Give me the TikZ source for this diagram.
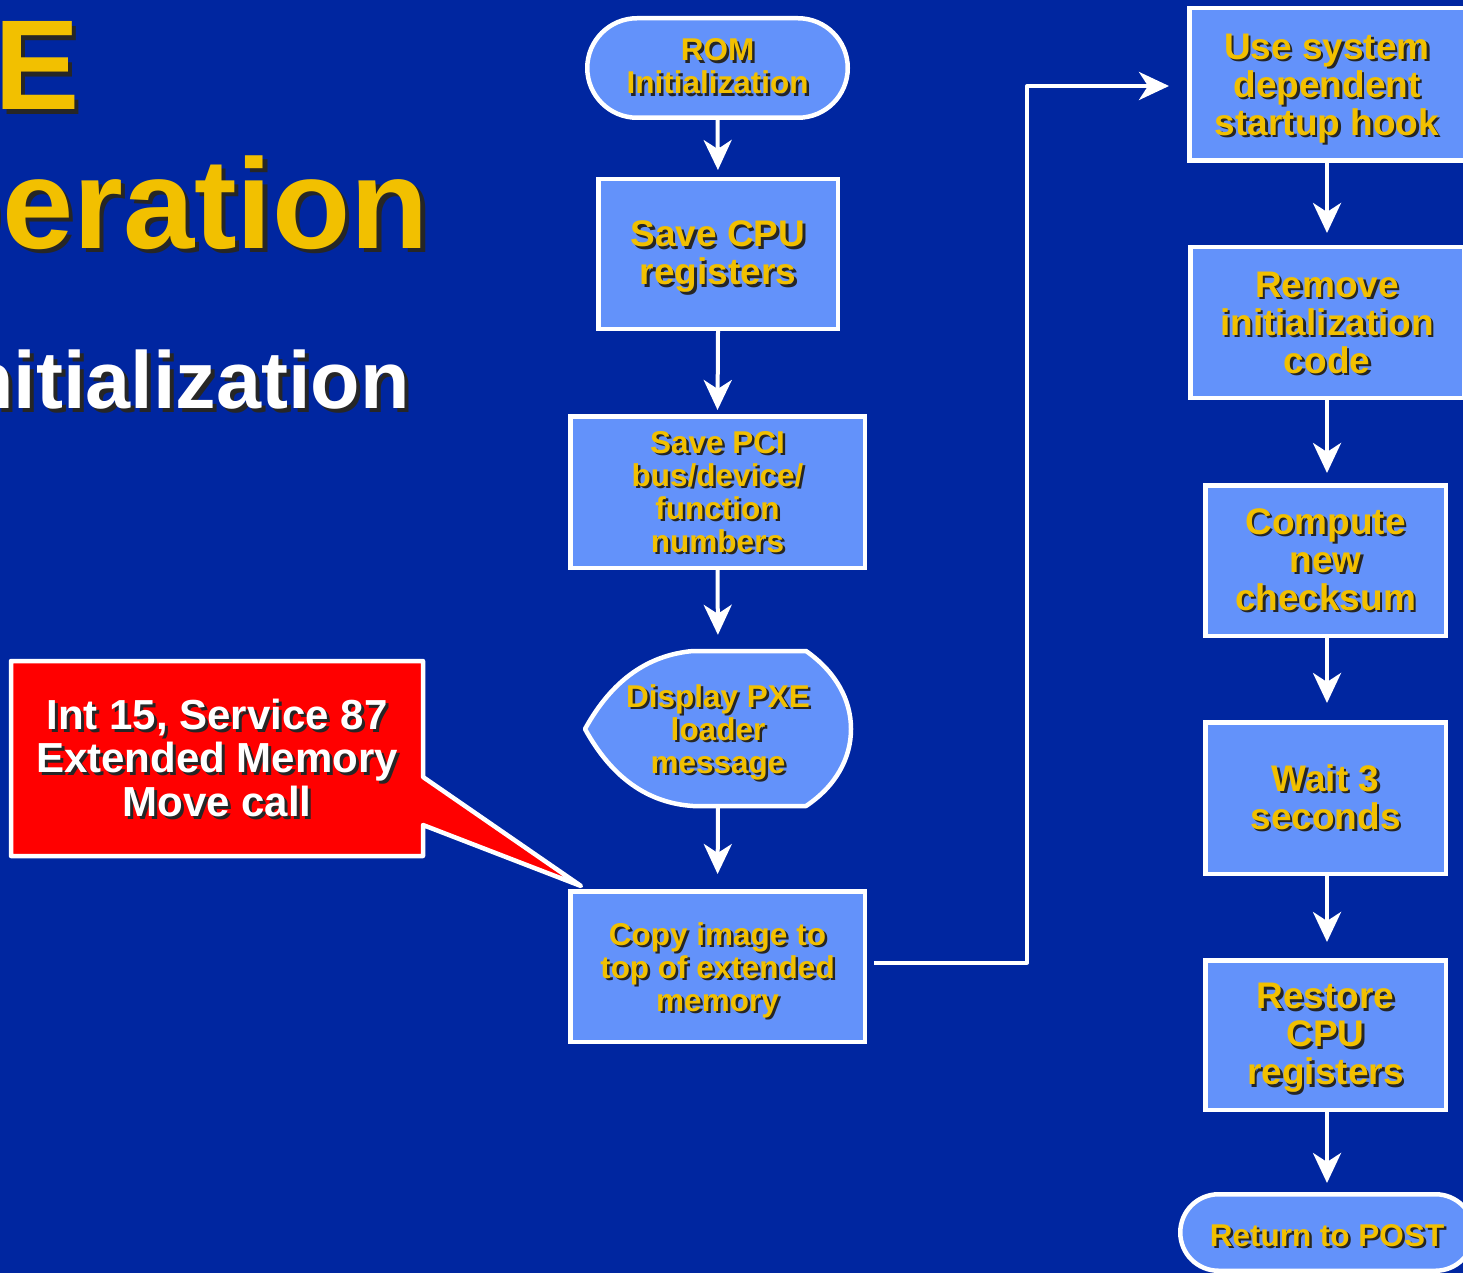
\documentclass[tikz,border=0pt]{standalone}
\usepackage{fontspec}
\setmainfont{Liberation Sans}
\usetikzlibrary{arrows.meta}

\definecolor{slidebg}{RGB}{0,38,160}
\definecolor{boxfill}{RGB}{99,146,250}
\definecolor{labelgold}{RGB}{242,192,0}
\definecolor{callred}{RGB}{255,0,0}

\tikzset{
  flowbox/.style={draw=white, line width=4.5pt, fill=boxfill, inner sep=0pt, rectangle},
  pill/.style={flowbox, rounded corners=#1},
  txt/.style={align=center, inner sep=0pt, font=\bfseries},
  smalltxt/.style={txt, font=\fontsize{31.5}{33}\selectfont\bfseries},
  bigtxt/.style={txt, font=\fontsize{37}{38}\selectfont\bfseries},
  conn/.style={draw=white, line width=4pt, line join=round,
    -{Stealth[length=30pt, width=28pt, inset=9pt]}},
}

% label with a dark drop shadow: name, position, style, colour, offset, text
\newcommand\shadowlabel[6]{%
  \coordinate (#1-pos) at #2;
  \node[#3, text=black!85] (#1-sh) at ([shift={(#5,-#5)}]#1-pos) {#6};
  \node[#3, text=#4] (#1) at (#1-pos) {#6};
}

\begin{document}
\begin{tikzpicture}[x=1pt, y=-1pt]
\useasboundingbox (0,0) rectangle (1463,1273);
\fill[slidebg] (0,0) rectangle (1463,1273);
\clip (0,0) rectangle (1463,1273);

% title lines, running off the left edge
\shadowlabel{title1}{(80,110)}{anchor=base east, inner sep=0pt, font=\fontsize{128}{130}\selectfont\bfseries}{labelgold}{4.5pt}{PXE}
\shadowlabel{title2}{(429,248)}{anchor=base east, inner sep=0pt, font=\fontsize{128}{130}\selectfont\bfseries}{labelgold}{4.5pt}{Operation}
\shadowlabel{title3}{(410,408)}{anchor=base east, inner sep=0pt, font=\fontsize{81}{83}\selectfont\bfseries}{white}{4pt}{Initialization}

% left column
\node[pill=49.75pt, minimum width=260.5pt, minimum height=99.5pt] (rom) at (717.5,68) {};
\node[flowbox, minimum width=239.5pt, minimum height=149.5pt] (cpu) at (718,254) {};
\node[flowbox, minimum width=294.5pt, minimum height=151.5pt] (pci) at (717.5,492) {};
\node[inner sep=0pt, minimum width=266pt, minimum height=155pt] (disp) at (718,728.5) {};
\filldraw[draw=white, line width=4.5pt, fill=boxfill, line join=round]
  (585,729) .. controls (612,680) and (648,655) .. (693,651) -- (806,651)
  .. controls (836,672) and (851,700) .. (851,729)
  .. controls (851,758) and (836,786) .. (806,806) -- (693,806)
  .. controls (648,803) and (612,778) .. (585,729) -- cycle;
\node[flowbox, minimum width=294.5pt, minimum height=150.5pt] (copy) at (717.5,966.5) {};

% right column
\node[flowbox, minimum width=275.5pt, minimum height=152.5pt] (hook) at (1327,84.5) {};
\node[flowbox, minimum width=273.5pt, minimum height=150.5pt] (remove) at (1327,322.5) {};
\node[flowbox, minimum width=240.5pt, minimum height=150.5pt] (compute) at (1325.5,560.5) {};
\node[flowbox, minimum width=240.5pt, minimum height=151.5pt] (wait) at (1325.5,798) {};
\node[flowbox, minimum width=240.5pt, minimum height=149.5pt] (restore) at (1325.5,1035) {};
\node[pill=38.25pt, minimum width=293.5pt, minimum height=76.5pt] (post) at (1327,1232.5) {};

% callout
\filldraw[draw=white, line width=4.5pt, fill=callred, line join=round]
  (11,661) -- (423,661) -- (423,777) -- (581,886) -- (423,825) -- (423,856) -- (11,856) -- cycle;
\node[inner sep=0pt, minimum width=412pt, minimum height=195pt] (callout) at (217,758.5) {};

% labels
\shadowlabel{romT}{([yshift=1.5pt]rom.center)}{smalltxt}{labelgold}{2.5pt}{ROM\\Initialization}
\shadowlabel{cpuT}{([yshift=-3pt]cpu.center)}{bigtxt}{labelgold}{2.5pt}{Save CPU\\registers}
\shadowlabel{pciT}{(pci.center)}{smalltxt}{labelgold}{2.5pt}{Save PCI\\bus/device/\\function\\numbers}
\shadowlabel{dispT}{([yshift=-3.5pt]disp.center)}{smalltxt}{labelgold}{2.5pt}{Display PXE\\loader\\message}
\shadowlabel{copyT}{([yshift=-3.5pt]copy.center)}{smalltxt}{labelgold}{2.5pt}{Copy image to\\top of extended\\memory}
\shadowlabel{hookT}{([yshift=-4pt]hook.center)}{bigtxt}{labelgold}{2.5pt}{Use system\\dependent\\startup hook}
\shadowlabel{removeT}{(remove.center)}{bigtxt}{labelgold}{2.5pt}{Remove\\initialization\\code}
\shadowlabel{computeT}{([yshift=1pt]compute.center)}{bigtxt}{labelgold}{2.5pt}{Compute\\new\\checksum}
\shadowlabel{waitT}{([yshift=1pt]wait.center)}{bigtxt}{labelgold}{2.5pt}{Wait 3\\seconds}
\shadowlabel{restoreT}{([yshift=-3pt]restore.center)}{bigtxt}{labelgold}{2.5pt}{Restore\\CPU\\registers}
\shadowlabel{postT}{([yshift=-3pt]post.center)}{smalltxt}{labelgold}{2.5pt}{Return to POST}
\shadowlabel{calloutT}{([yshift=1pt]callout.center)}{txt, font=\fontsize{42}{43.5}\selectfont\bfseries}{white}{3pt}{Int 15, Service 87\\Extended Memory\\Move call}

% connectors
\draw[conn, shorten >=7pt] (rom.south) -- (cpu.north);
\draw[conn, shorten >=4pt] (cpu.south) -- (pci.north);
\draw[conn, shorten >=16pt] (pci.south) -- (disp.north);
\draw[conn, shorten >=15pt] (disp.south) -- (copy.north);
\coordinate (bendlow) at (1027,962.5);
\coordinate (bendhigh) at (1027,86);
\draw[conn, shorten <=7pt, shorten >=18pt]
  ([yshift=4pt]copy.east) -- (bendlow) -- (bendhigh) -- (hook.west |- bendhigh);
\draw[conn, shorten >=12pt] (hook.south) -- (hook.south |- remove.north);
\draw[conn, shorten >=10pt] (remove.south) -- (remove.south |- compute.north);
\draw[conn, shorten >=17pt] (compute.south -| remove.south) -- (remove.south |- wait.north);
\draw[conn, shorten >=16pt] (wait.south -| remove.south) -- (remove.south |- restore.north);
\draw[conn, shorten >=9pt] (restore.south -| remove.south) -- (post.north);
\end{tikzpicture}
\end{document}
